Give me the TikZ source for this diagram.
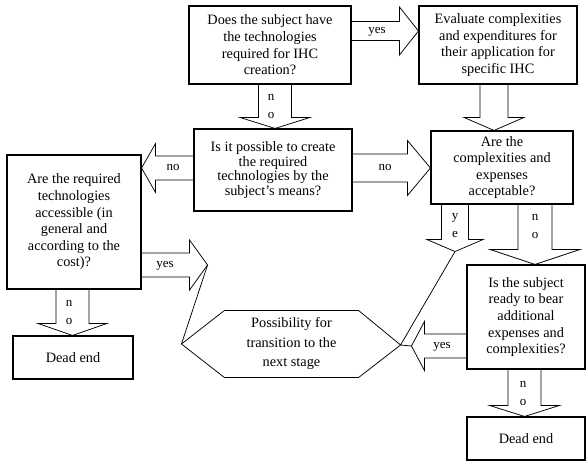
\documentclass[tikz,border=0pt]{standalone}
\usepackage{fontspec}
\setmainfont{Liberation Serif}
\usetikzlibrary{calc}
\tikzset{
	qbox/.style={draw, line width=1.1pt, align=center, inner sep=0pt,
		font=\fontsize{14.3}{16.6}\selectfont},
	lbl/.style={inner sep=0pt, align=center, font=\fontsize{13}{18}\selectfont},
	fat arrow/.style={line width=0.75pt, line join=miter}
}
% block arrows: from, to, shaft half width, head half width, head length (signed)
\newcommand{\harrow}[5]{
	\draw[fat arrow] ($(#1)+(0,#3)$) -- ($(#2|-#1)+(#5,#3)$) -- ($(#2|-#1)+(#5,#4)$) -- (#2|-#1)
		-- ($(#2|-#1)+(#5,-#4)$) -- ($(#2|-#1)+(#5,-#3)$) -- ($(#1)+(0,-#3)$);
}
\newcommand{\varrow}[5]{
	\draw[fat arrow] ($(#1)+(#3,0)$) -- ($(#1|-#2)+(#3,#5)$) -- ($(#1|-#2)+(#4,#5)$) -- (#1|-#2)
		-- ($(#1|-#2)+(-#4,#5)$) -- ($(#1|-#2)+(-#3,#5)$) -- ($(#1)+(-#3,0)$);
}

\begin{document}
\begin{tikzpicture}[x=1pt,y=-1pt]
		\useasboundingbox (0,0) rectangle (588,465);

		% Draw question boxes
		\node[qbox, minimum width=162pt, minimum height=78pt] (has) at (270,45) {Does the subject have\\the technologies\\required for IHC\\creation?};
		\node[qbox, minimum width=158pt, minimum height=78pt] (eval) at (498,45) {Evaluate complexities\\and expenditures for\\their application for\\specific IHC};
		\node[qbox, minimum width=158pt, minimum height=82pt, font=\fontsize{14.3}{14.8}\selectfont] (create) at (273,170) {Is it possible to create\\the required\\technologies by the\\subject's means?};
		\node[qbox, minimum width=134pt, minimum height=134pt] (access) at (74,222) {Are the required\\technologies\\accessible (in\\general and\\according to the\\cost)?};
		\node[qbox, minimum width=142pt, minimum height=73pt] (accept) at (502,167.5) {Are the\\complexities and\\expenses\\acceptable?};
		\node[qbox, minimum width=118pt, minimum height=104pt] (ready) at (526,317) {Is the subject\\ready to bear\\additional\\expenses and\\complexities?};
		\node[qbox, minimum width=120pt, minimum height=43pt] (dead1) at (73,357.5) {Dead end};
		\node[qbox, minimum width=118pt, minimum height=43pt] (dead2) at (526,438.5) {Dead end};

		% Draw hexagon
		\node[qbox, draw=none, minimum width=133pt, minimum height=66pt, font=\fontsize{14.3}{19.5}\selectfont] (next) at (291.5,344) {Possibility for\\transition to the\\next stage};
		\coordinate (nxE) at ($(next.east)+(42,1)$);
		\coordinate (nxW) at ($(next.west)+(-43,0)$);
		\draw[fat arrow] (next.north west) -- (next.north east) -- (nxE) -- (next.south east) -- (next.south west) -- (nxW) -- cycle;

		% -----------------------------------------------------
		\coordinate (a1) at ($(has.east)+(0,-14)$);
		\harrow{a1}{eval.west}{9.5}{24}{-19}
		\coordinate (a2) at ($(has.south)+(5,0)$);
		\varrow{a2}{create.north}{16.5}{35}{-11}
		\coordinate (a3) at ($(create.west)+(0,-2)$);
		\harrow{a3}{access.east}{12}{24.5}{14}
		\coordinate (a4) at ($(create.east)+(0,-2)$);
		\harrow{a4}{accept.west}{14}{27.5}{-23}
		\coordinate (a5) at ($(eval.south)+(-4,0)$);
		\varrow{a5}{accept.north}{14}{30}{-13}

		\coordinate (a6) at ($(accept.south)+(-47,0)$);
		\coordinate (t6) at ($(a6)+(0,47)$);
		\varrow{a6}{t6}{13.5}{28}{-12}
		\coordinate (a7) at ($(accept.south)+(33,0)$);
		\varrow{a7}{ready.north}{17}{45}{-15}
		\coordinate (a8) at ($(ready.west)+(0,29)$);
		\coordinate (t8) at ($(a8)+(-55,0)$);
		\harrow{a8}{t8}{12}{24.5}{13}
		\coordinate (a9) at ($(access.east)+(0,43)$);
		\coordinate (t9) at ($(a9)+(66,0)$);
		\harrow{a9}{t9}{12}{25}{-18}
		\coordinate (a10) at ($(access.south)+(-1.5,0)$);
		\varrow{a10}{dead1.north}{16.5}{34.5}{-12}
		\coordinate (a11) at ($(ready.south)+(-1.5,0)$);
		\varrow{a11}{dead2.north}{16.5}{35}{-11}

		% -----------------------------------------------------
		\draw[fat arrow] (t6) -- (nxE) -- (t8);
		\draw[fat arrow] (t9) -- (nxW);

		% arrow labels
		\node[lbl] (l1) at (377,32) {yes};
		\node[lbl] (l2) at (271,107) {n\\o};
		\node[lbl] (l3) at (173,168) {no};
		\node[lbl] (l4) at (385,168) {no};
		\node[lbl] (l6) at (455,226) {y\\e};
		\node[lbl] (l7) at (535,226) {n\\o};
		\node[lbl] (l8) at (442,347) {yes};
		\node[lbl] (l9) at (165,266) {yes};
		\node[lbl] (l10) at (69,312) {n\\o};
		\node[lbl] (l11) at (523,393) {n\\o};
\end{tikzpicture}
\end{document}
